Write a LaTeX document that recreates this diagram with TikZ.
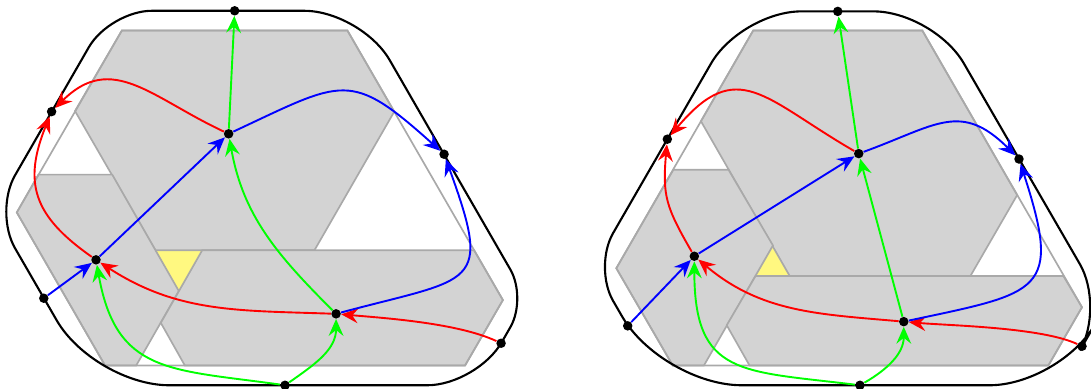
\documentclass[tikz,border=0pt]{standalone}
\usetikzlibrary{arrows.meta}
\definecolor{hexfill}{RGB}{211,211,211}
\definecolor{hexedge}{RGB}{169,169,169}
\begin{document}
\begin{tikzpicture}[
	>={Stealth[length=8pt,width=7pt,inset=2.8pt]},
	vtx/.style={circle,fill=black,inner sep=0pt,minimum size=4.5pt},
	hex/.style={fill=hexfill,draw=hexedge,thick},
	rim/.style={draw=hexedge,thick},
	hole/.style={fill=yellow!50},
	grn/.style={->,green,line width=0.9pt},
	rd/.style={->,red,line width=0.9pt},
	blu/.style={->,blue,line width=0.9pt}]
	\useasboundingbox (0,0) rectangle (18.18,6.48);
	% left picture
	\fill [hole] (2.59,2.31) -- (3.37,2.31) -- (2.98,1.63) -- cycle;
	\draw [hex] (2.03,5.97) -- (5.79,5.97) -- (6.57,4.62) -- (5.24,2.31) -- (2.59,2.31) -- (1.25,4.63) -- cycle;
	\draw [hex] (0.64,3.57) -- (1.87,3.57) -- (2.98,1.63) -- (2.27,0.39) -- (1.75,0.39) -- (0.28,2.94) -- cycle;
	\draw [hex] (3.37,2.31) -- (7.90,2.31) -- (8.38,1.48) -- (7.75,0.39) -- (3.08,0.39) -- (2.68,1.10) -- cycle;
	\draw [rim] (2.03,5.97) -- (5.79,5.97) -- (8.38,1.48) -- (7.75,0.39) -- (1.75,0.39) -- (0.28,2.94) -- cycle;
	\draw [line width=1pt] (3.91,6.30) [rounded corners=0.95cm] -- (6.02,6.30) [rounded corners=0.55cm] -- (8.78,1.51) [rounded corners=0.83cm] -- (7.95,0.06) [rounded corners=1.25cm] -- (1.57,0.06) [rounded corners=0.7cm] -- (-0.10,2.95) [rounded corners=0.7cm] -- (1.83,6.30) [sharp corners] -- cycle;
	\node [vtx] (top1) at (3.91,6.30) {};
	\node [vtx] (ul1) at (0.86,4.62) {};
	\node [vtx] (r1) at (7.40,3.91) {};
	\node [vtx] (ll1) at (0.73,1.51) {};
	\node [vtx] (bot1) at (4.75,0.06) {};
	\node [vtx] (lr1) at (8.35,0.76) {};
	\node [vtx] (mid1) at (3.81,4.25) {};
	\node [vtx] (left1) at (1.60,2.15) {};
	\node [vtx] (br1) at (5.60,1.25) {};
	\draw [grn] (mid1) -- (top1);
	\draw [grn] (br1) to [out=135,in=-80] (mid1);
	\draw [grn] (bot1) to [out=172,in=-80,looseness=1.3] (left1);
	\draw [grn] (bot1) to [out=35,in=-90] (br1);
	\draw [rd] (mid1) to [out=155,in=45,looseness=1.2] (ul1);
	\draw [rd] (left1) to [out=145,in=-112,looseness=1.25] (ul1);
	\draw [rd] (br1) to [out=178,in=-33] (left1);
	\draw [rd] (lr1) to [out=155,in=-5,looseness=0.7] (br1);
	\draw [blu] (ll1) -- (left1);
	\draw [blu] (left1) -- (mid1);
	\draw [blu] (mid1) to [out=25,in=138,looseness=1.5] (r1);
	\draw [blu] (br1) to [out=15,in=-70,looseness=1.9] (r1);
	% right picture
	\fill [hole] (12.88,2.39) -- (12.59,1.88) -- (13.16,1.88) -- cycle;
	\draw [hex] (12.55,5.97) -- (15.37,5.97) -- (16.95,3.23) -- (16.17,1.88) -- (13.16,1.88) -- (11.68,4.46) -- cycle;
	\draw [hex] (11.22,3.65) -- (12.14,3.65) -- (12.88,2.39) -- (11.73,0.39) -- (11.21,0.39) -- (10.27,2.01) -- cycle;
	\draw [hex] (12.59,1.88) -- (17.72,1.88) -- (18.03,1.36) -- (17.47,0.39) -- (12.49,0.39) -- (12.11,1.06) -- cycle;
	\draw [rim] (12.55,5.97) -- (15.37,5.97) -- (18.03,1.36) -- (17.47,0.39) -- (11.21,0.39) -- (10.27,2.01) -- cycle;
	\draw [line width=1pt] (13.96,6.29) [rounded corners=1cm] -- (15.56,6.29) [rounded corners=0.83cm] -- (18.41,1.36) [rounded corners=1.17cm] -- (17.66,0.06) [rounded corners=1.33cm] -- (11.03,0.06) [rounded corners=0.65cm] -- (9.89,2.03) [rounded corners=1cm] -- (12.35,6.29) [sharp corners] -- cycle;
	\node [vtx] (top2) at (13.96,6.29) {};
	\node [vtx] (ul2) at (11.12,4.16) {};
	\node [vtx] (r2) at (16.98,3.83) {};
	\node [vtx] (ll2) at (10.46,1.05) {};
	\node [vtx] (bot2) at (14.33,0.06) {};
	\node [vtx] (lr2) at (18.03,0.71) {};
	\node [vtx] (mid2) at (14.31,3.92) {};
	\node [vtx] (left2) at (11.57,2.21) {};
	\node [vtx] (br2) at (15.06,1.12) {};
	\draw [grn] (mid2) -- (top2);
	\draw [grn] (br2) -- (mid2);
	\draw [grn] (bot2) to [out=173,in=-90,looseness=1.45] (left2);
	\draw [grn] (bot2) to [out=30,in=-90] (br2);
	\draw [rd] (mid2) to [out=150,in=50,looseness=1.45] (ul2);
	\draw [rd] (left2) to [out=120,in=-95,looseness=1.2] (ul2);
	\draw [rd] (br2) to [out=175,in=-40] (left2);
	\draw [rd] (lr2) to [out=155,in=-5,looseness=0.6] (br2);
	\draw [blu] (ll2) -- (left2);
	\draw [blu] (left2) -- (mid2);
	\draw [blu] (mid2) to [out=20,in=135,looseness=1.3] (r2);
	\draw [blu] (br2) to [out=12,in=-72,looseness=1.8] (r2);
\end{tikzpicture}
\end{document}
